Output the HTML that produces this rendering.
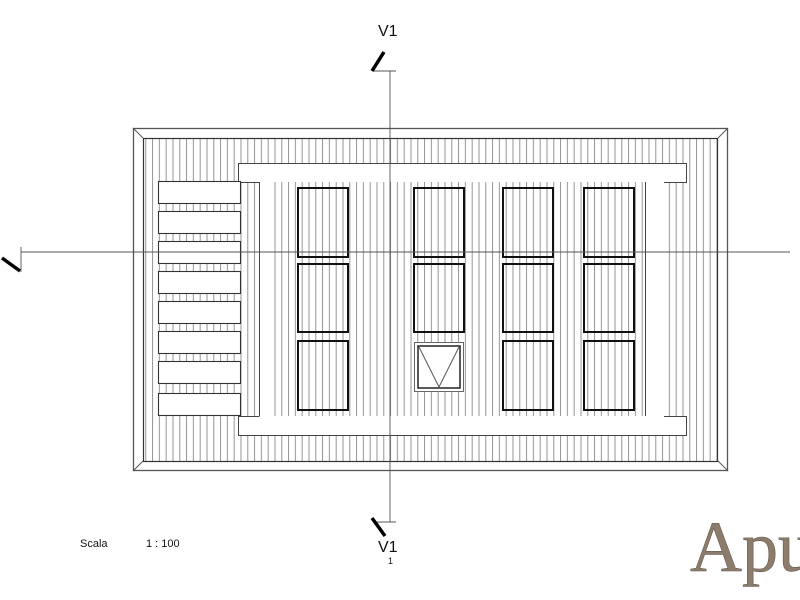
<!DOCTYPE html>
<html><head><style>body{margin:0;background:#fff}svg{display:block}</style></head><body>
<svg width="800" height="600" viewBox="0 0 800 600" xmlns="http://www.w3.org/2000/svg">
<defs>
<pattern id="h" x="0" y="0" width="6.8" height="10" patternUnits="userSpaceOnUse">
<line x1="3" y1="0" x2="3" y2="10" stroke="#8a8a8a" stroke-width="0.9"/>
</pattern>
</defs>
<rect width="800" height="600" fill="#fff"/>
<rect x="133.5" y="128.5" width="594" height="342" fill="#fff" stroke="#555" stroke-width="1.3"/>
<rect x="143.5" y="138.5" width="574" height="323" fill="url(#h)" stroke="#333" stroke-width="1.2"/>
<line x1="133" y1="128" x2="143" y2="138" stroke="#555"/>
<line x1="728" y1="128" x2="718" y2="138" stroke="#555"/>
<line x1="133" y1="471" x2="143" y2="461" stroke="#555"/>
<line x1="728" y1="471" x2="718" y2="461" stroke="#555"/>
<!-- white bands -->
<rect x="238" y="163" width="449" height="19" fill="#fff"/>
<rect x="238" y="416" width="449" height="19" fill="#fff"/>
<rect x="259" y="182" width="14" height="234" fill="#fff"/>
<rect x="645" y="182" width="19" height="234" fill="#fff"/>
<g fill="none" stroke="#444" stroke-width="1">
<path d="M259.5 182.5 H238.5 V163.5 H686.5 V182.5 H664"/>
<path d="M259.5 416.5 H238.5 V435.5 H686.5 V416.5 H664"/>
<line x1="259.5" y1="182" x2="259.5" y2="416"/>
<line x1="645.5" y1="182" x2="645.5" y2="416"/>
</g>
<!-- steps -->
<g fill="#fff" stroke="#333" stroke-width="1.1">
<rect x="158.5" y="181.5" width="82" height="22"/>
<rect x="158.5" y="211.5" width="82" height="22"/>
<rect x="158.5" y="241.5" width="82" height="22"/>
<rect x="158.5" y="271.5" width="82" height="22"/>
<rect x="158.5" y="301.5" width="82" height="22"/>
<rect x="158.5" y="331.5" width="82" height="22"/>
<rect x="158.5" y="361.5" width="82" height="22"/>
<rect x="158.5" y="393.5" width="82" height="22"/>
</g>
<!-- windows -->
<g fill="none" stroke="#111" stroke-width="2">
<rect x="298" y="188" width="50" height="69"/><rect x="298" y="264" width="50" height="68"/><rect x="298" y="341" width="50" height="69"/>
<rect x="414" y="188" width="50" height="69"/><rect x="414" y="264" width="50" height="68"/>
<rect x="503" y="188" width="50" height="69"/><rect x="503" y="264" width="50" height="68"/><rect x="503" y="341" width="50" height="69"/>
<rect x="584" y="188" width="50" height="69"/><rect x="584" y="264" width="50" height="68"/><rect x="584" y="341" width="50" height="69"/>
</g>
<rect x="414.5" y="342.5" width="49" height="49" fill="#fff" stroke="#666"/>
<rect x="418" y="346" width="42" height="42" fill="#fff" stroke="#222" stroke-width="1.5"/>
<polyline points="419,347 439,387 459,347" fill="none" stroke="#555"/>
<!-- axes -->
<g stroke="#555" stroke-width="0.9">
<line x1="390" y1="71" x2="390" y2="522"/>
<line x1="373" y1="71" x2="396" y2="71"/>
<line x1="21" y1="252" x2="790" y2="252"/>
<line x1="21" y1="247" x2="21" y2="272"/>
<line x1="373" y1="522" x2="396" y2="522"/>
</g>
<g stroke="#000" stroke-width="3.5">
<line x1="372" y1="71" x2="384" y2="52"/>
<line x1="372" y1="518" x2="385" y2="536"/>
<line x1="2" y1="258" x2="20" y2="271"/>
</g>
<g font-family="Liberation Sans, sans-serif" fill="#111">
<text x="378" y="36" font-size="16">V1</text>
<text x="378" y="552" font-size="16">V1</text>
<text x="388" y="564" font-size="9">1</text>
<text x="80" y="547" font-size="11">Scala</text>
<text x="146" y="547" font-size="11">1 : 100</text>
</g>
<text x="690" y="571" font-family="Liberation Serif, serif" font-size="72" fill="#8c7c6c" stroke="#6a5a4c" stroke-width="0.6">Apu</text>
</svg>
</body></html>
